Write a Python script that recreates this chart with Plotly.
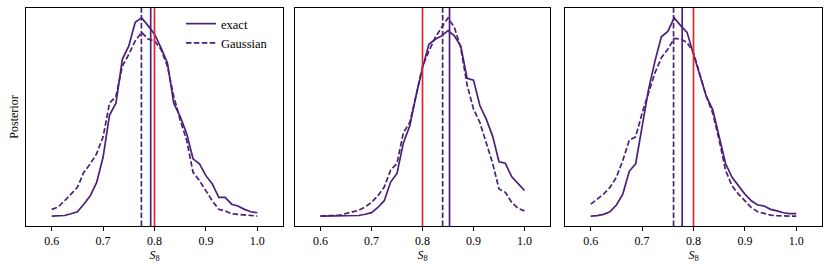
import numpy as np
import plotly.graph_objects as go

# Sample grid of S8
s8 = np.linspace(0.6, 1.0, 33)

# Panel 1 posteriors
p1_exact = [0, 0, 0.003, 0.012, 0.022, 0.060, 0.102, 0.170, 0.298, 0.510, 0.570, 0.791, 0.859, 0.978, 1.0,
            0.961, 0.918, 0.850, 0.774, 0.570, 0.502, 0.417, 0.289, 0.264, 0.204, 0.162, 0.094, 0.094, 0.060,
            0.051, 0.034, 0.022, 0.017]
p1_gauss = [0.034, 0.046, 0.077, 0.111, 0.145, 0.221, 0.264, 0.315, 0.400, 0.570, 0.604, 0.757, 0.816, 0.884,
            0.927, 0.893, 0.884, 0.842, 0.757, 0.604, 0.485, 0.383, 0.221, 0.179, 0.128, 0.077, 0.034, 0.026,
            0.012, 0.009, 0.003, 0, 0]
# Panel 2 posteriors
p2_exact = [0, 0, 0, 0, 0, 0.002, 0.003, 0.009, 0.017, 0.043, 0.077, 0.170, 0.213, 0.366, 0.451, 0.604, 0.740,
            0.859, 0.884, 0.901, 0.927, 0.901, 0.850, 0.689, 0.680, 0.553, 0.485, 0.400, 0.272, 0.264, 0.196,
            0.162, 0.128]
p2_gauss = [0, 0, 0.003, 0.005, 0.012, 0.019, 0.029, 0.046, 0.068, 0.102, 0.145, 0.230, 0.264, 0.417, 0.468,
            0.604, 0.748, 0.825, 0.893, 0.944, 0.991, 0.944, 0.842, 0.655, 0.536, 0.468, 0.366, 0.264, 0.136,
            0.119, 0.068, 0.039, 0.026]
# Panel 3 posteriors
p3_exact = [0, 0.002, 0.009, 0.022, 0.056, 0.111, 0.226, 0.264, 0.451, 0.638, 0.782, 0.905, 0.932, 1.0, 0.961,
            0.927, 0.816, 0.706, 0.604, 0.536, 0.400, 0.264, 0.196, 0.153, 0.111, 0.077, 0.056, 0.051, 0.034,
            0.026, 0.017, 0.012, 0.012]
p3_gauss = [0.060, 0.085, 0.111, 0.145, 0.196, 0.281, 0.383, 0.400, 0.519, 0.621, 0.723, 0.799, 0.842, 0.896,
            0.893, 0.876, 0.825, 0.714, 0.604, 0.519, 0.383, 0.230, 0.153, 0.111, 0.077, 0.043, 0.022, 0.012,
            0.005, 0.002, 0, 0, 0]

# Vertical markers: exact peak, Gaussian peak, truth
exact_peak = [0.7926, 0.853, 0.778]
gauss_peak = [0.7745, 0.8395, 0.7612]
truth = [0.8, 0.8, 0.8]

tick_vals = [0.6, 0.7, 0.8, 0.9, 1.0]
tick_text = ["0.6", "0.7", "0.8", "0.9", "1.0"]

PURPLE = "#4c2079"
RED = "#e3262b"
FONT = "Liberation Serif"

W, H = 831, 272
x_domains = [(26 / W, 283 / W), (295 / W, 550 / W), (565 / W, 822 / W)]
y_domain = (1 - 226 / H, 1 - 8 / H)

exacts = [p1_exact, p2_exact, p3_exact]
gausses = [p1_gauss, p2_gauss, p3_gauss]

fig = go.Figure()
layout = dict(
    width=W, height=H,
    margin=dict(l=0, r=0, t=0, b=0, autoexpand=False),
    paper_bgcolor="white", plot_bgcolor="white",
    font=dict(family=FONT, size=12, color="black"),
    showlegend=True,
    legend=dict(x=181 / W, y=1 - 9 / H, xanchor="left", yanchor="top",
                bgcolor="rgba(0,0,0,0)", font=dict(family=FONT, size=12.5),
                tracegroupgap=0, itemwidth=30),
)

for i in range(3):
    sfx = "" if i == 0 else str(i + 1)
    xa, ya = "x" + sfx, "y" + sfx
    ex, ga = exacts[i], gausses[i]
    lo = min(min(ex), min(ga))
    hi = max(max(ex), max(ga))
    pad = 0.05 * (hi - lo)
    fig.add_trace(go.Scatter(x=s8, y=ex, mode="lines", name="exact", xaxis=xa, yaxis=ya,
                             line=dict(color=PURPLE, width=1.7), showlegend=(i == 0)))
    fig.add_trace(go.Scatter(x=s8, y=ga, mode="lines", name="Gaussian", xaxis=xa, yaxis=ya,
                             line=dict(color=PURPLE, width=1.7, dash="5.5px,2.4px"), showlegend=(i == 0)))
    layout["xaxis" + sfx] = dict(
        domain=list(x_domains[i]), anchor=ya, range=[0.55, 1.05], automargin=False,
        tickmode="array", tickvals=tick_vals, ticktext=tick_text,
        ticks="outside", ticklen=3.5, tickwidth=0.8, tickcolor="black",
        showline=True, linecolor="black", linewidth=1, mirror=True,
        showgrid=False, zeroline=False,
        tickfont=dict(family=FONT, size=12),
        title=dict(text="<i>S</i><sub>8</sub>", font=dict(family=FONT, size=12), standoff=3),
    )
    yax = dict(
        domain=list(y_domain), anchor=xa, range=[lo - pad, hi + pad], automargin=False,
        showticklabels=False, ticks="",
        showline=True, linecolor="black", linewidth=1, mirror=True,
        showgrid=False, zeroline=False,
    )
    if i == 0:
        yax["title"] = dict(text="Posterior", font=dict(family=FONT, size=12), standoff=3)
    layout["yaxis" + sfx] = yax

    for xv, col, dsh in [(gauss_peak[i], PURPLE, "5.5px,2.4px"),
                         (exact_peak[i], PURPLE, "solid"),
                         (truth[i], RED, "solid")]:
        fig.add_shape(type="line", xref=xa, yref=ya + " domain", x0=xv, x1=xv, y0=0, y1=1,
                      line=dict(color=col, width=1.7, dash=dsh), layer="above")

fig.update_layout(**layout)
fig.write_html("out.html", config={"displayModeBar": False},
               post_script="document.body.style.margin='0px';")
